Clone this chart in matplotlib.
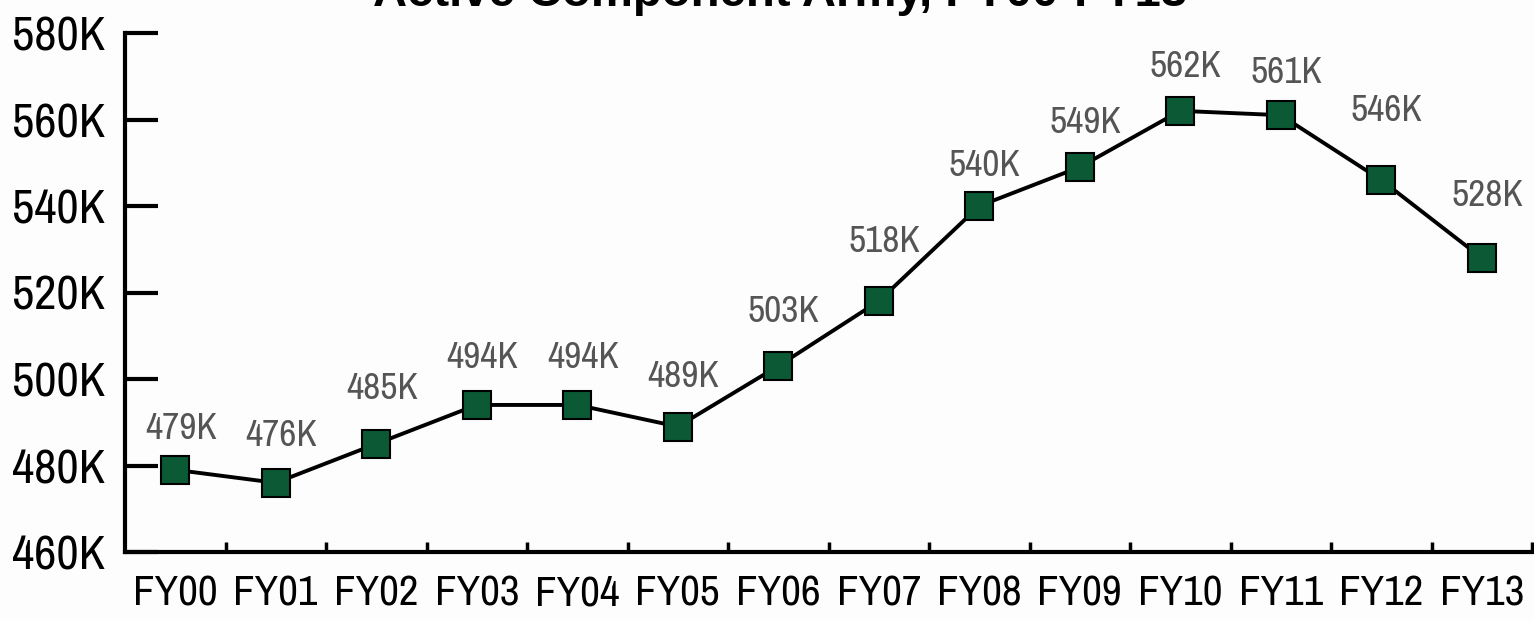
import matplotlib.pyplot as plt

plt.rcParams['font.family'] = ['Archivo Narrow', 'Liberation Sans', 'DejaVu Sans']

# Active component army end strength (thousands)
years = ['FY00', 'FY01', 'FY02', 'FY03', 'FY04', 'FY05', 'FY06',
         'FY07', 'FY08', 'FY09', 'FY10', 'FY11', 'FY12', 'FY13']
strength = [479, 476, 485, 494, 494, 489, 503, 518, 540, 549, 562, 561, 546, 528]
y_ticks = [460, 480, 500, 520, 540, 560, 580]

# label offsets above each marker (points)
label_dy = [30, 34, 40, 34, 34, 36, 39, 43, 29, 32, 32, 31, 50, 45]

fig = plt.figure(figsize=(15.34, 6.2), dpi=100, facecolor='#fdfdfd')
ax = fig.add_axes([125 / 1534, 1 - 552 / 620, (1532 - 125) / 1534, (552 - 33) / 620])
ax.set_facecolor('#fdfdfd')

x = list(range(len(years)))
ax.plot(x, strength, color='black', lw=2.8, marker='s', ms=20,
        mfc='#0b5a35', mec='black', mew=1.5, zorder=3)

for xi, v, dy in zip(x, strength, label_dy):
    ax.annotate(f'{v}K', (xi, v), xytext=(4, dy), textcoords='offset points',
                ha='center', va='center', fontsize=27, color='#555555')

ax.set_xlim(-0.5, len(years) - 0.5)
ax.set_ylim(460, 580)
ax.set_yticks(y_ticks)
ax.set_yticklabels([f'{t}K' for t in y_ticks], fontsize=35)
ax.tick_params(axis='y', direction='in', length=24, width=3, pad=14)

ax.set_xticks([i + 0.5 for i in range(len(years))])
ax.set_xticklabels([])
ax.set_xticks(x, minor=True)
ax.set_xticklabels(years, minor=True, fontsize=31)
ax.tick_params(axis='x', which='major', direction='in', length=7, width=2.5)
ax.tick_params(axis='x', which='minor', length=0, pad=16)

for s in ['top', 'right']:
    ax.spines[s].set_visible(False)
for s in ['left', 'bottom']:
    ax.spines[s].set_linewidth(3)

fig.text(780 / 1534, 1 - 6 / 620, 'Active Component Army, FY00-FY13',
         ha='center', va='baseline', fontsize=34, fontweight='bold',
         family=['Liberation Sans', 'DejaVu Sans'])

fig.savefig('out.png', dpi=100, facecolor=fig.get_facecolor())
